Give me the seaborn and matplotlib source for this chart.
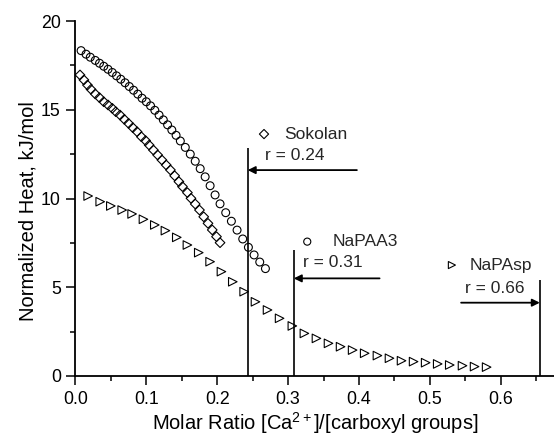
import numpy as np
import pandas as pd
import matplotlib
matplotlib.use("Agg")
import matplotlib.pyplot as plt
from matplotlib.ticker import MultipleLocator
import seaborn as sns

# ---- data ----
sokolan_x = [0.0065, 0.012, 0.017, 0.022, 0.028, 0.034, 0.040, 0.046, 0.052, 0.057,
             0.063, 0.069, 0.075, 0.081, 0.087, 0.093, 0.099, 0.104, 0.110, 0.116,
             0.122, 0.128, 0.134, 0.140, 0.146, 0.151, 0.158, 0.163, 0.169, 0.175,
             0.181, 0.187, 0.193, 0.199, 0.204]
sokolan_y = [16.96, 16.68, 16.39, 16.15, 15.89, 15.68, 15.45, 15.27, 15.08, 14.89,
             14.70, 14.46, 14.23, 13.99, 13.76, 13.48, 13.26, 13.01, 12.73, 12.45,
             12.17, 11.89, 11.61, 11.28, 10.95, 10.67, 10.33, 10.01, 9.69, 9.35,
             8.97, 8.60, 8.23, 7.85, 7.51]

napaa3_x = [0.008, 0.015, 0.021, 0.028, 0.034, 0.040, 0.046, 0.052, 0.058, 0.064,
            0.070, 0.076, 0.082, 0.088, 0.094, 0.100, 0.106, 0.112, 0.118, 0.124,
            0.130, 0.136, 0.142, 0.148, 0.155, 0.162, 0.169, 0.176, 0.183, 0.190,
            0.197, 0.204, 0.212, 0.220, 0.228, 0.236, 0.244, 0.252, 0.260, 0.268]
napaa3_y = [18.33, 18.13, 17.96, 17.78, 17.62, 17.45, 17.28, 17.10, 16.91, 16.72,
            16.52, 16.31, 16.10, 15.88, 15.65, 15.45, 15.22, 14.97, 14.70, 14.43,
            14.15, 13.86, 13.56, 13.24, 12.88, 12.50, 12.10, 11.68, 11.22, 10.72,
            10.20, 9.70, 9.20, 8.72, 8.22, 7.72, 7.25, 6.82, 6.42, 6.05]

napasp_x = [0.018, 0.035, 0.050, 0.066, 0.080, 0.096, 0.112, 0.127, 0.143, 0.158,
            0.174, 0.190, 0.206, 0.222, 0.238, 0.254, 0.271, 0.288, 0.306, 0.323,
            0.340, 0.357, 0.374, 0.391, 0.408, 0.426, 0.443, 0.460, 0.477, 0.494,
            0.511, 0.528, 0.546, 0.563, 0.580]
napasp_y = [10.14, 9.82, 9.58, 9.35, 9.13, 8.83, 8.51, 8.19, 7.81, 7.38,
            6.95, 6.44, 5.88, 5.31, 4.75, 4.18, 3.72, 3.25, 2.82, 2.40,
            2.12, 1.84, 1.65, 1.46, 1.28, 1.15, 1.00, 0.86, 0.81, 0.75,
            0.68, 0.62, 0.58, 0.53, 0.50]

series_names = ["Sokolan", "NaPAA3", "NaPAsp"]
r_labels = ["r = 0.24", "r = 0.31", "r = 0.66"]
r_pos = [0.243, 0.308, 0.655]          # vertical marker lines
r_line_top = [12.83, 7.1, 5.4]
arrow_y = [11.6, 5.5, 4.13]
arrow_from = [0.397, 0.429, 0.544]

x_ticks = [0.0, 0.1, 0.2, 0.3, 0.4, 0.5, 0.6]
y_ticks = [0, 5, 10, 15, 20]

# ---- style ----
sns.set_theme(style="ticks")
plt.rcParams["font.family"] = ["Liberation Sans", "DejaVu Sans"]
plt.rcParams["mathtext.fontset"] = "custom"
plt.rcParams["mathtext.rm"] = "Liberation Sans"
plt.rcParams["mathtext.it"] = "Liberation Sans:italic"
plt.rcParams["mathtext.bf"] = "Liberation Sans:bold"

fig = plt.figure(figsize=(5.54, 4.37), dpi=100)
ax = fig.add_axes([75.4 / 554, 61 / 437, 1 - 75.4 / 554, 355 / 437])

df = pd.concat([
    pd.DataFrame({"x": sokolan_x, "y": sokolan_y, "s": series_names[0]}),
    pd.DataFrame({"x": napaa3_x, "y": napaa3_y, "s": series_names[1]}),
    pd.DataFrame({"x": napasp_x, "y": napasp_y, "s": series_names[2]}),
])
markers = {"Sokolan": "D", "NaPAA3": "o", "NaPAsp": ">"}
sizes = {"Sokolan": 24, "NaPAA3": 32, "NaPAsp": 38}
for name in series_names:
    sub = df[df.s == name]
    sns.scatterplot(data=sub, x="x", y="y", marker=markers[name], s=sizes[name],
                    facecolors="none", edgecolor="black", linewidth=0.8, ax=ax,
                    legend=False)

# vertical lines and arrows
for xp, top, ay, af in zip(r_pos, r_line_top, arrow_y, arrow_from):
    ax.plot([xp, xp], [0, top], color="black", lw=1.2, solid_capstyle="butt")
    ax.annotate("", xy=(xp, ay), xytext=(af, ay),
                arrowprops=dict(arrowstyle="-|>", color="black", lw=1.3,
                                mutation_scale=11, shrinkA=0, shrinkB=0))

# labels with key symbols
key_pos = [(0.266, 13.63), (0.327, 7.57), (0.531, 6.25)]
name_pos = [(0.295, 13.63), (0.363, 7.57), (0.556, 6.25)]
rlab_pos = [(0.267, 12.45), (0.321, 6.37), (0.549, 4.94)]
key_sizes = {"Sokolan": 22, "NaPAA3": 26, "NaPAsp": 26}
for name, kp, npos, rl, rp in zip(series_names, key_pos, name_pos, r_labels, rlab_pos):
    ax.scatter([kp[0]], [kp[1]], marker=markers[name], s=key_sizes[name],
               facecolors="none", edgecolors="black", linewidths=0.8)
    ax.text(npos[0], npos[1], name, fontsize=12.5, va="center", ha="left")
    ax.text(rp[0], rp[1], rl, fontsize=12.5, va="center", ha="left")

ax.set_xlim(0, 0.675)
ax.set_ylim(0, 20)
ax.set_xticks(x_ticks)
ax.set_xticklabels([f"{v:.1f}" for v in x_ticks])
ax.set_yticks(y_ticks)
ax.xaxis.set_minor_locator(MultipleLocator(0.05))
ax.yaxis.set_minor_locator(MultipleLocator(2.5))
ax.tick_params(which="major", direction="out", length=6.5, width=1.1,
               labelsize=12.8, color="black", labelcolor="black", pad=4)
ax.tick_params(which="minor", direction="out", length=3.4, width=1.1, color="black")
for side in ["top", "right"]:
    ax.spines[side].set_visible(False)
for side in ["left", "bottom"]:
    ax.spines[side].set_linewidth(1.3)
    ax.spines[side].set_color("black")

ax.set_xlabel("Molar Ratio [Ca$^{2+}$]/[carboxyl groups]", fontsize=14.5,
              color="black")
ax.xaxis.set_label_coords(0.5, -0.168)
ax.xaxis.label.set_va("bottom")
ax.set_ylabel("Normalized Heat, kJ/mol", fontsize=14.5, color="black")
ax.yaxis.set_label_coords(-0.079, 0.465)

fig.savefig("out.png", dpi=100, facecolor="white")
